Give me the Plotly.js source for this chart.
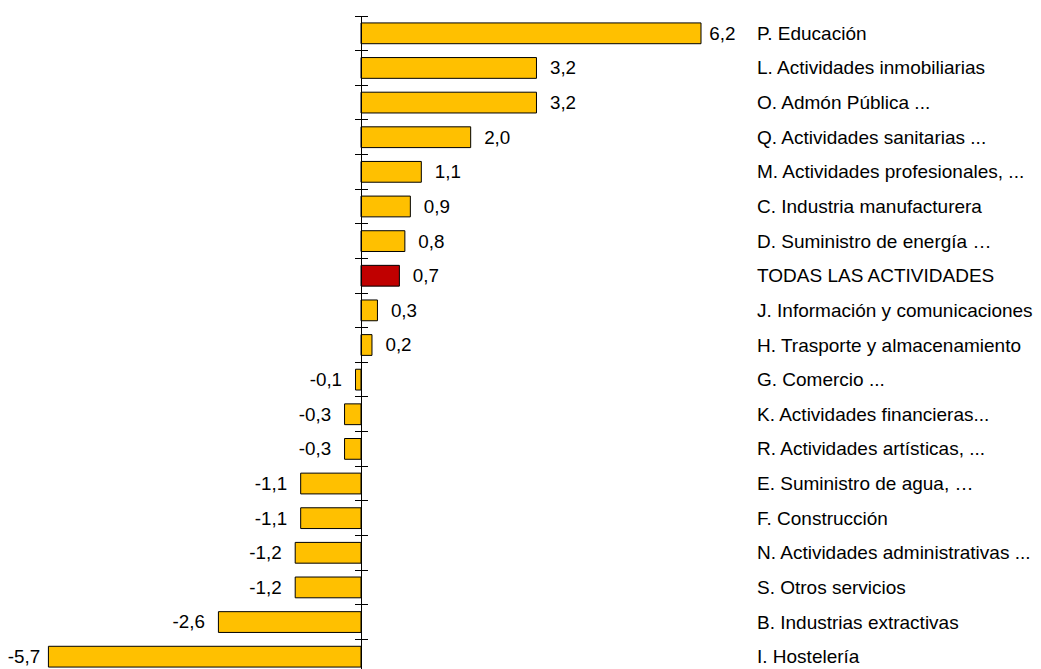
<!DOCTYPE html>
<html>
<head>
<meta charset="utf-8">
<script src="https://cdn.plot.ly/plotly-3.0.1.min.js"></script>
<style>html,body{margin:0;padding:0;overflow:hidden;background:#fff}</style>
</head>
<body>
<div id="chart" style="width:1041px;height:674px"></div>
<script>
const categories = [
  "P. Educación",
  "L. Actividades inmobiliarias",
  "O. Admón Pública ...",
  "Q. Actividades sanitarias ...",
  "M. Actividades profesionales, ...",
  "C. Industria manufacturera",
  "D. Suministro de energía …",
  "TODAS LAS ACTIVIDADES",
  "J. Información y comunicaciones",
  "H. Trasporte y almacenamiento",
  "G. Comercio ...",
  "K. Actividades financieras...",
  "R. Actividades artísticas, ...",
  "E. Suministro de agua, …",
  "F. Construcción",
  "N. Actividades administrativas ...",
  "S. Otros servicios",
  "B. Industrias extractivas",
  "I. Hostelería"
];
const values = [6.2, 3.2, 3.2, 2.0, 1.1, 0.9, 0.8, 0.7, 0.3, 0.2, -0.1, -0.3, -0.3, -1.1, -1.1, -1.2, -1.2, -2.6, -5.7];
const totalLabel = "TODAS LAS ACTIVIDADES";

const gold = "#FFC000", red = "#C00000";
const FONT = "Liberation Sans, Arial, sans-serif";
const FS = 19;
const colors = categories.map(c => c === totalLabel ? red : gold);
const fmt = v => v.toFixed(1).replace(".", ",");
const vmax = Math.max(...values), vmin = Math.min(...values);
const texts = values.map(v => {
  const pad = (v === vmax || v === vmin) ? "\u00a0" : "\u00a0\u00a0";
  return v >= 0 ? pad + fmt(v) : fmt(v) + pad;
});

const zeroPx = 361, pxPerUnit = 340 / 6.2, W = 1041;
const xr = [-zeroPx / pxPerUnit, (W - zeroPx) / pxPerUnit];

const traces = [
  {
    type: "bar", orientation: "h", y: categories, x: values,
    marker: {color: colors, line: {color: "#000", width: 1}},
    text: texts, textposition: "outside", cliponaxis: false,
    textfont: {family: FONT, size: FS, color: "#000"},
    hoverinfo: "skip", xaxis: "x", yaxis: "y"
  },
  {
    type: "bar", orientation: "h", y: categories, x: values.map(() => 0),
    marker: {color: "rgba(0,0,0,0)"}, hoverinfo: "skip", showlegend: false,
    xaxis: "x", yaxis: "y2"
  }
];

const annotations = categories.map(c => ({
  xref: "paper", yref: "y", x: 755 / W, y: c, text: c, showarrow: false,
  xanchor: "left", yanchor: "middle",
  font: {family: FONT, size: FS, color: "#000"}
}));

const yCommon = {
  type: "category", categoryorder: "array", categoryarray: categories,
  range: [categories.length - 0.5, -0.5],
  anchor: "free", position: zeroPx / W,
  showline: true, linecolor: "#000", linewidth: 1,
  tickson: "boundaries", ticklen: 6, tickwidth: 1, tickcolor: "#000",
  showticklabels: false, showgrid: false, zeroline: false, fixedrange: true
};

const layout = {
  width: 1041, height: 674,
  margin: {l: 0, r: 0, t: 16, b: 0, pad: 0},
  paper_bgcolor: "#fff", plot_bgcolor: "#fff",
  bargap: 0.4, barmode: "overlay", showlegend: false,
  separators: ",.",
  font: {family: FONT, size: FS, color: "#000"},
  uniformtext: {mode: false},
  xaxis: {range: xr, visible: false, showgrid: false, zeroline: false, fixedrange: true},
  yaxis: Object.assign({}, yCommon, {ticks: "outside", side: "left"}),
  yaxis2: Object.assign({}, yCommon, {ticks: "outside", side: "right", overlaying: "y"}),
  annotations: annotations
};

Plotly.newPlot("chart", traces, layout, {displayModeBar: false, staticPlot: true});
</script>
</body>
</html>
